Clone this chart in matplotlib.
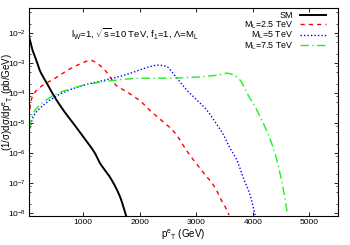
import numpy as np
import matplotlib
matplotlib.use("Agg")
import matplotlib.pyplot as plt
from matplotlib.ticker import LogLocator, FixedLocator, NullFormatter

plt.rcParams['font.family'] = ['Liberation Sans', 'DejaVu Sans']
plt.rcParams['mathtext.fontset'] = 'custom'
plt.rcParams['mathtext.rm'] = 'Liberation Sans'
plt.rcParams['mathtext.it'] = 'Liberation Sans'

# SM
sm_x = [40, 100, 150, 234, 352, 469, 646, 823, 1000, 1118, 1207, 1296, 1473, 1650, 1760]
sm_logy = [-2.11, -2.55, -2.80, -3.25, -3.65, -4.05, -4.56, -5.0, -5.45, -5.75, -6.0, -6.33, -6.8, -7.45, -8.1]

# M_L = 2.5 TeV
r_x = [40, 70, 115, 234, 500, 735, 970, 1130, 1240, 1354, 1473, 1561, 1770, 1885, 2033, 2150,
       2287, 2416, 2547, 2652, 2752, 2900, 3065, 3154, 3272, 3361, 3432, 3508, 3580]
r_logy = [-4.8, -4.3, -4.05, -3.8, -3.5, -3.22, -3.0, -2.9, -3.0, -3.17, -3.45, -3.7, -3.95, -4.09,
          -4.3, -4.52, -4.75, -4.95, -5.17, -5.39, -5.69, -6.1, -6.5, -6.72, -6.98, -7.25, -7.53, -7.78, -8.06]

# M_L = 5 TeV
b_x = [40, 115, 234, 441, 676, 1030, 1384, 1738, 1915, 2003, 2180, 2327, 2476, 2564, 2681, 2830,
       3007, 3184, 3331, 3449, 3596, 3715, 3832, 3950, 4039]
b_logy = [-5.28, -4.78, -4.5, -4.19, -3.95, -3.72, -3.56, -3.39, -3.28, -3.22, -3.11, -3.06, -3.11,
          -3.28, -3.56, -3.89, -4.22, -4.56, -4.95, -5.28, -5.83, -6.22, -6.83, -7.39, -8.06]

# M_L = 7.5 TeV
g_x = [40, 115, 234, 441, 676, 1030, 1384, 1738, 2003, 2416, 3007, 3390, 3538, 3655, 3773, 3920,
       4039, 4157, 4274, 4392, 4480, 4540, 4610]
g_logy = [-5.17, -4.67, -4.39, -4.11, -3.91, -3.72, -3.61, -3.53, -3.5, -3.5, -3.46, -3.39, -3.33,
          -3.39, -3.56, -4.08, -4.45, -4.89, -5.39, -6.0, -6.67, -7.22, -8.0]

labels = ['SM', r'M$_\mathrm{L}$=2.5 TeV', r'M$_\mathrm{L}$=5 TeV', r'M$_\mathrm{L}$=7.5 TeV']
xticks = [1000, 2000, 3000, 4000, 5000]


def pchip(x, y, xs):
    x = np.asarray(x, float); y = np.asarray(y, float)
    h = np.diff(x); d = np.diff(y) / h
    n = len(x)
    m = np.zeros(n)
    for k in range(1, n - 1):
        if d[k - 1] * d[k] > 0:
            w1 = 2 * h[k] + h[k - 1]; w2 = h[k] + 2 * h[k - 1]
            m[k] = (w1 + w2) / (w1 / d[k - 1] + w2 / d[k])
    m[0] = d[0]; m[-1] = d[-1]
    idx = np.clip(np.searchsorted(x, xs) - 1, 0, n - 2)
    t = (xs - x[idx]) / h[idx]
    h00 = 2*t**3 - 3*t**2 + 1; h10 = t**3 - 2*t**2 + t
    h01 = -2*t**3 + 3*t**2; h11 = t**3 - t**2
    return h00*y[idx] + h10*h[idx]*m[idx] + h01*y[idx+1] + h11*h[idx]*m[idx+1]


def smooth(x, ly, n=400):
    xs = np.linspace(x[0], x[-1], n)
    return xs, 10**pchip(x, ly, xs)


fig = plt.figure(figsize=(3.5, 2.45), dpi=100)
ax = fig.add_axes([29/350, 1-216/245, (337.7-29)/350, (216-8)/245])

ax.plot(*smooth(sm_x, sm_logy), color='black', lw=1.4, label=labels[0])
ax.plot(*smooth(r_x, r_logy), color='#ff0000', lw=1.0, dashes=(3, 3), label=labels[1])
ax.plot(*smooth(b_x, b_logy), color='#0000ff', lw=1.0, dashes=(1, 1.5), label=labels[2])
ax.plot(*smooth(g_x, g_logy), color='#22ee22', lw=1.0, dashes=(6, 2.5, 1, 2.5), label=labels[3])

ax.set_yscale('log')
ax.set_xlim(40, 5500)
ax.set_ylim(8.1e-9, 0.0697)
ax.xaxis.set_major_locator(FixedLocator(xticks))
ax.yaxis.set_major_locator(LogLocator(base=10, numticks=20))
ax.yaxis.set_minor_locator(LogLocator(base=10, subs=(2, 5, 8), numticks=20))
ax.yaxis.set_minor_formatter(NullFormatter())
ax.tick_params(which='both', direction='in', top=True, right=True, labelsize=6, pad=2)
ax.tick_params(which='major', length=3, width=0.6)
ax.tick_params(which='minor', length=1.5, width=0.5)
for s in ax.spines.values():
    s.set_linewidth(0.8)

ax.set_xlabel(r'p$^\mathrm{e}{}_\mathrm{T}$ (GeV)', fontsize=7, labelpad=1)
ax.set_ylabel(r'(1/$\sigma$)d$\sigma$/dp$^\mathrm{e}{}_\mathrm{T}$ (pb/GeV)', fontsize=7)
ax.yaxis.set_label_coords(-0.045, 0.55)

ax.text(0.137, 0.875, r'l$_\mathrm{W}$=1, $\sqrt{\mathrm{s}}$=10 TeV, f$_\mathrm{1}$=1, $\Lambda$=M$_\mathrm{L}$',
        transform=ax.transAxes, fontsize=6.8, va='center', ha='left')

leg = ax.legend(loc='upper right', bbox_to_anchor=(0.98, 1.01), frameon=False, fontsize=6.4,
                markerfirst=False, handlelength=3.0, handletextpad=0.7, labelspacing=-0.1,
                borderaxespad=0.2, alignment='right')
for t in leg.get_texts():
    t.set_ha('right')

fig.savefig('out.png', dpi=100)
